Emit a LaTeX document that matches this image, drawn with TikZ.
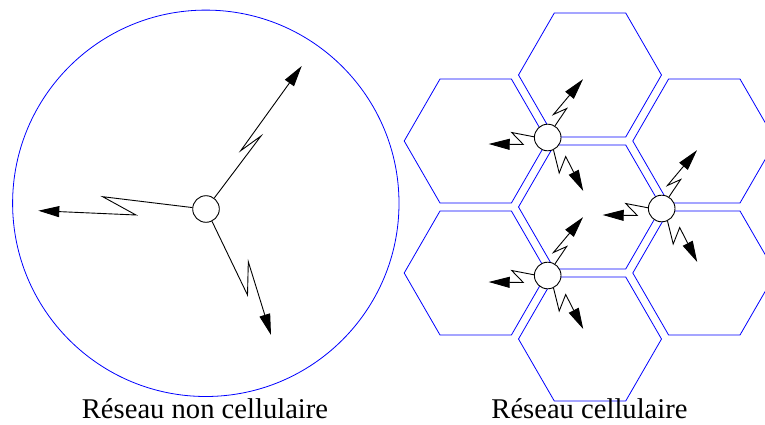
\documentclass[tikz,border=0pt]{standalone}
\usepackage{fontspec}
\setmainfont{Liberation Serif}
\usetikzlibrary{arrows.meta,calc}
\tikzset{
  cell/.style={draw=blue, line width=0.8pt},
  station/.style={circle, draw, fill=white, line width=0.9pt, minimum size=26.6pt, inner sep=0pt},
  ray/.style={line width=0.9pt, line join=miter, -{Triangle[length=21pt,width=11pt]}},
  caption/.style={anchor=base, font=\fontsize{28.6}{34}\selectfont, inner sep=0pt},
}
\newcommand{\stationrays}[1]{%
  \draw[ray] (#1.58) -- ($(#1)+(19,-29)$) -- ($(#1)+(5.7,-23)$) -- ($(#1)+(35.3,-58.3)$);
  \draw[ray] (#1.177) -- ($(#1)+(-36,-5)$) -- ($(#1)+(-24.4,7)$) -- ($(#1)+(-59,6.5)$);
  \draw[ray] (#1.295) -- ($(#1)+(11.5,35.5)$) -- ($(#1)+(18,19)$) -- ($(#1)+(35.5,53.5)$);
}
\begin{document}
\begin{tikzpicture}[x=1pt,y=-1pt]
\clip (0,0) rectangle (765,425);
% non-cellular network
\draw[cell] (205.8,203.3) circle[radius=193.2];
\node[station] (ms) at (206,209) {};
\coordinate (t1) at (301.7,66);
\coordinate (t2) at (38.3,210.7);
\coordinate (t3) at (271,335);
\draw[ray] (ms.53) -- (261,136) -- (240.7,150.7) -- (t1);
\draw[ray] (ms.174) -- (102.7,196.7) -- (136,215) -- (t2);
\draw[ray] (ms.296) -- (247.5,295) -- (248.3,261.7) -- (t3);
\node[caption] (lab1) at (205,418.5) {Réseau non cellulaire};
% cellular network
\foreach \cx/\cy in {590/207, 590/75, 590/339, 475.7/141, 704.3/141, 475.7/273, 704.3/273}
  \draw[cell, shift={(\cx,\cy)}] (0:71.5) -- (60:71.5) -- (120:71.5) -- (180:71.5) -- (240:71.5) -- (300:71.5) -- cycle;
\node[station] (bs1) at (547.7,137.5) {};
\node[station] (bs2) at (661.7,208.5) {};
\node[station] (bs3) at (547.7,275.5) {};
\stationrays{bs1}
\stationrays{bs2}
\stationrays{bs3}
\node[caption] (lab2) at (589.5,418.5) {Réseau cellulaire};
\end{tikzpicture}
\end{document}
